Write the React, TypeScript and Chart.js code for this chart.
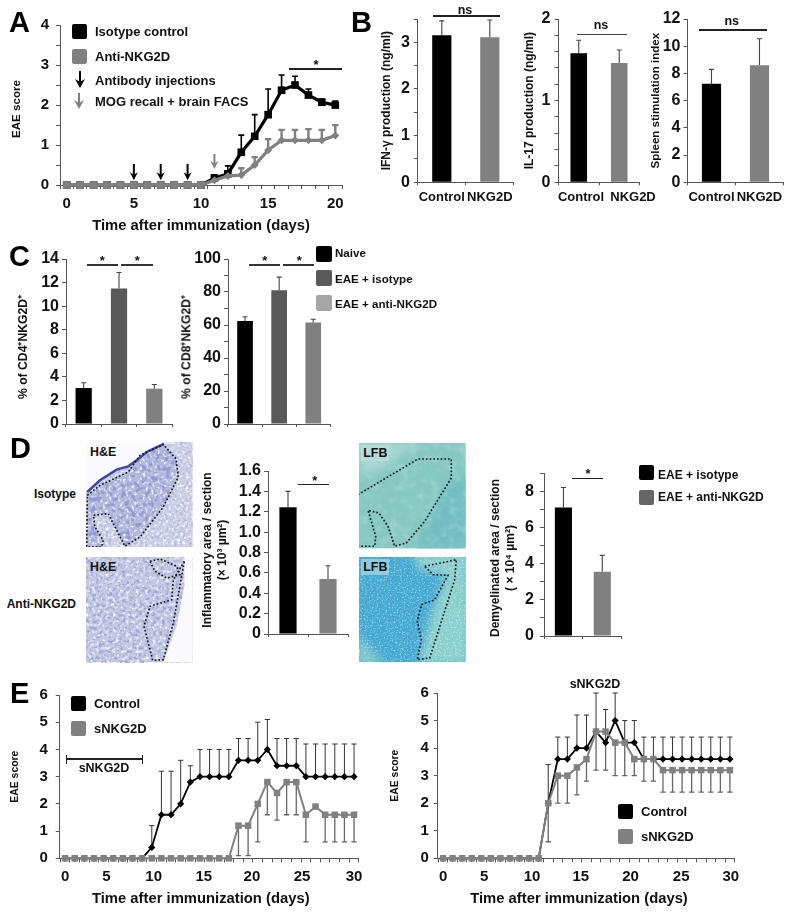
import React, { useEffect, useRef } from 'react';
import { Chart, registerables } from 'chart.js';
Chart.register(...registerables);

const FONT = '"Liberation Sans", Arial, sans-serif';
const AXIS = '#555555';
const GREY = '#808080';

// ---------- data ----------
const aDayIndex = [0, 1, 2, 3, 4, 5, 6, 7, 8, 9, 10, 11, 12, 13, 14, 15, 16, 17, 18, 19, 20];
const aIsotype = [0, 0, 0, 0, 0, 0, 0, 0, 0, 0, 0, 0.18, 0.28, 0.82, 1.22, 1.76, 2.37, 2.5, 2.25, 2.07, 2];
const aIsotypeTop = [null, null, null, null, null, null, null, null, null, null, null, 0.25, 0.48, 1.25, 1.76, 2.4, 2.75, 2.72, 2.4, 2.15, 2.1];
const aAnti = [0, 0, 0, 0, 0, 0, 0, 0, 0, 0, 0, 0.12, 0.23, 0.25, 0.5, 0.87, 1.12, 1.12, 1.12, 1.12, 1.24];
const aAntiTop = [null, null, null, null, null, null, null, null, null, null, null, 0.2, 0.33, 0.42, 0.7, 1.15, 1.38, 1.38, 1.4, 1.38, 1.5];
const aTickPos = [0, 5, 10, 15, 20];
const aTickLabels = ['0', '5', '10', '15', '20'];
const aBlackArrowDays = [5, 7, 9];
const aGreyArrowDays = [11];

const bCategories = ['Control', 'NKG2D'];
const ifnValues = [3.15, 3.11];
const ifnTop = [3.46, 3.48];
const il17Values = [1.58, 1.46];
const il17Top = [1.74, 1.62];
const spleenValues = [7.25, 8.6];
const spleenTop = [8.3, 10.55];

const cCategories = ['Naive', 'EAE + isotype', 'EAE + anti-NKG2D'];
const cd4Values = [3.05, 11.5, 3];
const cd4Top = [3.5, 12.85, 3.35];
const cd8Values = [62.5, 81, 61.5];
const cd8Top = [65, 89, 63.5];

const dCategories = ['EAE + isotype', 'EAE + anti-NKG2D'];
const inflamValues = [1.245, 0.54];
const inflamTop = [1.4, 0.67];
const demyelValues = [7.1, 3.55];
const demyelTop = [8.2, 4.45];

const e1Index = Array.from({ length: 31 }, (_, i) => i);
const e1Control = [0, 0, 0, 0, 0, 0, 0, 0, 0, 0.4, 1.6, 1.6, 2, 2.8, 3, 3, 3, 3, 3.6, 3.6, 3.6, 4, 3.4, 3.4, 3.4, 3, 3, 3, 3, 3, 3];
const e1ControlTop = [null, null, null, null, null, null, null, null, null, 1.2, 3.2, 3.2, 3.6, 3.4, 4, 4, 4, 4, 4.4, 4.4, 5, 5.1, 4.4, 4.4, 4.4, 4.2, 4.2, 4.2, 4.2, 4.2, 4.2];
const e1Snkg = [0, 0, 0, 0, 0, 0, 0, 0, 0, 0, 0, 0, 0, 0, 0, 0, 0, 0, 1.2, 1.2, 2, 2.8, 2.4, 2.8, 2.8, 1.6, 1.9, 1.6, 1.6, 1.6, 1.6];
const e1SnkgLow = [null, null, null, null, null, null, null, null, null, null, null, null, null, null, null, null, null, null, 0.1, 0.1, 0.6, 1.6, 1.4, 1.6, 1.6, 0.6, null, 0.6, 0.6, 0.6, 0.6];
const e1TickPos = [0, 4.3, 9.2, 14.4, 19.4, 24.6, 30];

const e2Control = [0, 0, 0, 0, 0, 0, 0, 0, 0, 0, 0, 2, 3.6, 3.6, 4, 4, 4.6, 4.2, 5, 4.2, 4.2, 3.6, 3.6, 3.6, 3.6, 3.6, 3.6, 3.6, 3.6, 3.6, 3.6];
const e2ControlTop = [null, null, null, null, null, null, null, null, null, null, null, 3.4, 4.4, 4.4, 5.2, 5.2, 6, 5.4, 6, 5, 5, 4.4, 4.4, 4.4, 4.4, 4.4, 4.4, 4.4, 4.4, 4.4, 4.4];
const e2Snkg = [0, 0, 0, 0, 0, 0, 0, 0, 0, 0, 0, 2, 3, 3, 3.3, 3.6, 4.6, 4.6, 4.2, 4.2, 3.6, 3.6, 3.6, 3.2, 3.2, 3.2, 3.2, 3.2, 3.2, 3.2, 3.2];
const e2SnkgLow = [null, null, null, null, null, null, null, null, null, null, null, 0.6, 2, 2, 2.3, 2.8, 3.2, 3.2, 3, 3, 3, 2.8, 2.8, 2.4, 2.4, 2.4, 2.4, 2.4, 2.4, 2.4, 2.4];
const e2TickPos = [0, 4.3, 9.3, 14.4, 19.6, 24.9, 30.1];
const eTickLabels = ['0', '5', '10', '15', '20', '25', '30'];

// ---------- plugins ----------
const errorBars = {
  id: 'errorBars',
  beforeDatasetsDraw(chart: any) {
    const { ctx } = chart;
    const y = chart.scales.y;
    chart.data.datasets.forEach((ds: any, i: number) => {
      const ends = ds.errTop || ds.errLow;
      if (!ends) return;
      const meta = chart.getDatasetMeta(i);
      ctx.save();
      ctx.strokeStyle = ds.errColor;
      ctx.lineWidth = ds.errWidth;
      ends.forEach((end: number | null, k: number) => {
        if (end === null || end === undefined) return;
        const px = meta.data[k].x;
        const y0 = y.getPixelForValue(ds.data[k].y ?? ds.data[k]);
        const y1 = y.getPixelForValue(end);
        ctx.beginPath();
        ctx.moveTo(px, y0);
        ctx.lineTo(px, y1);
        ctx.moveTo(px - ds.errCap, y1);
        ctx.lineTo(px + ds.errCap, y1);
        ctx.stroke();
      });
      ctx.restore();
    });
  },
};

const arrowPlugin = (items: { day: number; top: number; bottom: number; color: string }[]) => ({
  id: 'arrows',
  afterDatasetsDraw(chart: any) {
    const { ctx } = chart;
    items.forEach((a) => {
      const x = chart.scales.x.getPixelForValue(a.day);
      const y0 = chart.scales.y.getPixelForValue(a.top);
      const y1 = chart.scales.y.getPixelForValue(a.bottom);
      ctx.save();
      ctx.strokeStyle = a.color;
      ctx.fillStyle = a.color;
      ctx.lineWidth = 2;
      ctx.beginPath();
      ctx.moveTo(x, y0);
      ctx.lineTo(x, y1 - 4);
      ctx.stroke();
      ctx.beginPath();
      ctx.moveTo(x - 4, y1 - 8);
      ctx.lineTo(x, y1 - 5.5);
      ctx.lineTo(x + 4, y1 - 8);
      ctx.lineTo(x, y1);
      ctx.closePath();
      ctx.fill();
      ctx.restore();
    });
  },
});

// ---------- chart panel ----------
type Title = { lines: string[]; cx: number; cy: number; size: number };
type Frame = { l: number; t: number; r: number; b: number; bottom: number };

function fixedBox(size: number, prop: 'width' | 'height') {
  return (s: any) => {
    s[prop] = size;
    s.paddingLeft = s.paddingRight = s.paddingTop = s.paddingBottom = 0;
  };
}

function Txt(p: { x: number; y: number; text: string; size?: number; anchor?: string; rotate?: boolean; color?: string; weight?: number }) {
  const tx = p.anchor === 'start' ? '0' : p.anchor === 'end' ? '-100%' : '-50%';
  return (
    <div
      style={{
        position: 'absolute',
        left: p.x,
        top: p.y,
        transform: `translate(${tx},-50%)${p.rotate ? ' rotate(-90deg)' : ''}`,
        font: `${p.weight ?? 700} ${p.size ?? 13}px ${FONT}`,
        lineHeight: 1.1,
        color: p.color ?? '#111',
        whiteSpace: 'nowrap',
      }}
    >
      {p.text}
    </div>
  );
}

function Panel(p: {
  frame: Frame;
  yTitle: Title;
  xTitle?: { text: string; cx: number; cy: number; size: number };
  yMax: number;
  yStep: number;
  yLabel: (v: number) => string;
  ySize: number;
  yPad?: number;
  xCfg: any;
  datasets: any[];
  type: 'bar' | 'line';
  labels?: string[];
  plugins?: any[];
}) {
  const ref = useRef<HTMLCanvasElement>(null);
  const { frame: f, yTitle, xTitle } = p;
  const lh = yTitle.size * 1.25;
  const yNative = Math.abs(yTitle.cy - (f.t + f.b) / 2) <= 2;
  const left = yNative ? yTitle.cx - lh / 2 : f.l - 55;
  const top = f.t - 14;
  const rightPad = 26;
  const xNative = xTitle ? Math.abs(xTitle.cx - (f.l + f.r) / 2) <= 2 : false;
  const bottom = xTitle && xNative ? xTitle.cy + (xTitle.size * 1.2) / 2 : f.bottom;
  const w = Math.round(f.r + rightPad - left);
  const h = Math.round(bottom - top);

  useEffect(() => {
    const chart = new Chart(ref.current as HTMLCanvasElement, {
      type: p.type,
      data: { labels: p.labels, datasets: p.datasets },
      plugins: [errorBars, ...(p.plugins ?? [])],
      options: {
        animation: false,
        responsive: false,
        maintainAspectRatio: false,
        devicePixelRatio: 1,
        layout: { padding: { top: f.t - top, right: w - (f.r - left), left: 0, bottom: 0 } },
        plugins: { legend: { display: false }, tooltip: { enabled: false }, title: { display: false } },
        scales: {
          x: {
            ...p.xCfg,
            position: 'bottom',
            afterFit: fixedBox(bottom - f.b, 'height'),
            title: xTitle && xNative
              ? { display: true, text: xTitle.text, color: '#111', padding: 0, font: { family: FONT, weight: 'bold', size: xTitle.size, lineHeight: 1.2 } }
              : { display: false },
          },
          y: {
            type: 'linear',
            min: 0,
            max: p.yMax,
            position: 'left',
            afterFit: fixedBox(f.l - left, 'width'),
            border: { display: true, color: AXIS, width: 1 },
            grid: { display: true, drawOnChartArea: false, drawTicks: true, tickLength: 4, color: AXIS, tickColor: AXIS },
            ticks: {
              stepSize: p.yStep,
              autoSkip: false,
              padding: p.yPad ?? 3,
              color: '#111',
              font: { family: FONT, weight: 'bold', size: p.ySize },
              callback: (v: any) => p.yLabel(Number(v)),
            },
            title: yNative
              ? {
                  display: true,
                  text: yTitle.lines.length > 1 ? yTitle.lines : yTitle.lines[0],
                  color: '#111',
                  padding: 0,
                  font: { family: FONT, weight: 'bold', size: yTitle.size, lineHeight: 1.25 },
                }
              : { display: false },
          },
        },
      } as any,
    });
    return () => chart.destroy();
  }, []);

  return (
    <>
      <canvas ref={ref} width={w} height={h} style={{ position: 'absolute', left, top, width: w, height: h }} />
      {!yNative &&
        yTitle.lines.map((t, i) => (
          <Txt key={t} x={yTitle.cx + i * lh} y={yTitle.cy} text={t} size={yTitle.size} rotate />
        ))}
      {xTitle && !xNative && <Txt x={xTitle.cx} y={xTitle.cy} text={xTitle.text} size={xTitle.size} />}
    </>
  );
}

function linearX(min: number, max: number, n: number, pos: number[], labels: string[], size: number, pad: number) {
  const map = new Map(pos.map((v, i) => [v, labels[i]]));
  const marks: number[] = [];
  for (let i = 0; i <= n; i++) marks.push(i - 0.5);
  const all = [...new Set([...marks, ...pos])].sort((a, b) => a - b);
  return {
    type: 'linear',
    min,
    max,
    border: { display: true, color: AXIS, width: 1 },
    grid: {
      display: true,
      drawOnChartArea: false,
      drawTicks: true,
      tickLength: 4,
      color: AXIS,
      tickColor: (c: any) => (c.tick && c.tick.label ? 'rgba(0,0,0,0)' : AXIS),
    },
    afterBuildTicks: (s: any) => {
      s.ticks = all.map((value) => ({ value }));
    },
    ticks: {
      autoSkip: false,
      maxRotation: 0,
      minRotation: 0,
      padding: pad,
      color: '#111',
      font: { family: FONT, weight: 'bold', size },
      callback: (v: any) => map.get(Number(v)) ?? '',
    },
  };
}

function catX(showLabels: boolean) {
  return {
    type: 'category',
    offset: true,
    border: { display: true, color: AXIS, width: 1 },
    grid: { display: true, offset: true, drawOnChartArea: false, drawTicks: true, tickLength: 3, color: AXIS, tickColor: AXIS },
    ticks: {
      autoSkip: false,
      maxRotation: 0,
      minRotation: 0,
      padding: 4,
      color: '#111',
      font: { family: FONT, weight: 'bold', size: 13 },
      callback: function (this: any, v: any) {
        return showLabels ? this.getLabelForValue(v) : '';
      },
    },
  };
}

function barDs(values: number[], top: number[], colors: string[], pct: number) {
  return [
    {
      data: values,
      backgroundColor: colors,
      borderWidth: 0,
      barPercentage: 1,
      categoryPercentage: pct,
      errTop: top,
      errColor: '#444',
      errWidth: 1.1,
      errCap: 2.5,
    },
  ];
}

function lineDs(idx: number[], values: number[], o: any) {
  return {
    data: idx.map((x, i) => ({ x, y: values[i] })),
    clip: false,
    tension: 0,
    pointBorderWidth: 0,
    ...o,
  };
}

// ---------- decoration helpers ----------
function Rule(p: { x1: number; x2: number; y: number; color?: string; h?: number }) {
  return <div style={{ position: 'absolute', left: p.x1, top: p.y - (p.h ?? 1.4) / 2, width: p.x2 - p.x1, height: p.h ?? 1.4, background: p.color ?? '#222' }} />;
}

function Swatch(p: { x: number; y: number; size?: number; color: string }) {
  const s = p.size ?? 15;
  return <div style={{ position: 'absolute', left: p.x, top: p.y, width: s, height: s, borderRadius: 2, background: p.color }} />;
}

function LegendArrow(p: { x: number; y1: number; y2: number; color: string }) {
  const h = p.y2 - p.y1;
  return (
    <svg style={{ position: 'absolute', left: p.x - 6, top: p.y1 }} width={12} height={h}>
      <line x1={6} y1={0} x2={6} y2={h - 4} stroke={p.color} strokeWidth={2} />
      <path d={`M1 ${h - 9} L6 ${h - 6} L11 ${h - 9} L6 ${h} Z`} fill={p.color} />
    </svg>
  );
}

type Pt = [number, number];
function Photo(p: {
  id: string; x: number; y: number; w: number; h: number; ox: number; oy: number; base: string;
  dark: string; darkK: number; lightK: number; freq: number;
  hot?: { pts: Pt[]; color: string; k: number; freq: number; tint: string };
  patches: { pts: Pt[]; fill: string }[];
  covers?: Pt[][];
  soft?: number;
  outlines: Pt[][];
  stroke?: { pts: Pt[]; color: string; width: number };
  label: string; labelBg?: string; seed: number;
}) {
  const conv = (pts: Pt[]) => pts.map(([a, b]) => `${((a - p.ox) / 3).toFixed(1)},${((b - p.oy) / 3).toFixed(1)}`).join(' ');
  const hex = (c: string) => [1, 3, 5].map((i) => parseInt(c.slice(i, i + 2), 16) / 255);
  const [r, g, b] = hex(p.dark);
  const hc = p.hot ? hex(p.hot.color) : [0, 0, 0];
  return (
    <div style={{ position: 'absolute', left: p.x, top: p.y, width: p.w, height: p.h }}>
      <svg width={p.w} height={p.h} style={{ position: 'absolute', left: 0, top: 0 }}>
        <defs>
          <filter id={p.id + 'd'} x="0" y="0" width="100%" height="100%">
            <feTurbulence type="fractalNoise" baseFrequency={p.freq} numOctaves={2} seed={p.seed} />
            <feColorMatrix type="matrix" values={`0 0 0 0 ${r} 0 0 0 0 ${g} 0 0 0 0 ${b} ${p.darkK} 0 0 0 ${-p.darkK * 0.5}`} />
          </filter>
          <filter id={p.id + 'l'} x="0" y="0" width="100%" height="100%">
            <feTurbulence type="fractalNoise" baseFrequency={p.freq} numOctaves={2} seed={p.seed + 7} />
            <feColorMatrix type="matrix" values={`0 0 0 0 1 0 0 0 0 1 0 0 0 0 1 ${p.lightK} 0 0 0 ${-p.lightK * 0.52}`} />
          </filter>
          <filter id={p.id + 's'} x="-20%" y="-20%" width="140%" height="140%">
            <feGaussianBlur stdDeviation={p.soft ?? 0} />
          </filter>
          {p.hot && (
            <>
              <filter id={p.id + 'h'} x="0" y="0" width="100%" height="100%">
                <feTurbulence type="fractalNoise" baseFrequency={p.hot.freq} numOctaves={2} seed={p.seed + 3} />
                <feColorMatrix type="matrix" values={`0 0 0 0 ${hc[0]} 0 0 0 0 ${hc[1]} 0 0 0 0 ${hc[2]} ${p.hot.k} 0 0 0 ${-p.hot.k * 0.5}`} />
              </filter>
              <clipPath id={p.id + 'c'}>
                <polygon points={conv(p.hot.pts)} />
              </clipPath>
            </>
          )}
        </defs>
        <rect width={p.w} height={p.h} fill={p.base} />
        {p.hot && <rect width={p.w} height={p.h} fill={p.hot.tint} clipPath={`url(#${p.id}c)`} />}
        <g filter={p.soft ? `url(#${p.id}s)` : undefined}>
          {p.patches.map((c, i) => (
            <polygon key={i} points={conv(c.pts)} fill={c.fill} />
          ))}
        </g>
        <rect width={p.w} height={p.h} filter={`url(#${p.id}d)`} />
        <rect width={p.w} height={p.h} filter={`url(#${p.id}l)`} />
        {p.hot && (
          <g clipPath={`url(#${p.id}c)`}>
            <rect width={p.w} height={p.h} filter={`url(#${p.id}h)`} />
          </g>
        )}
        {(p.covers ?? []).map((c, i) => (
          <polygon key={i} points={conv(c)} fill="#fbfbfd" />
        ))}
        {p.stroke && <polyline points={conv(p.stroke.pts)} fill="none" stroke={p.stroke.color} strokeWidth={p.stroke.width} />}
        {p.outlines.map((o, i) => (
          <polygon key={i} points={conv(o)} fill="none" stroke="#111" strokeWidth={1.6} strokeDasharray="1.7 2" />
        ))}
      </svg>
      <div style={{ position: 'absolute', left: 2, top: 2, padding: '1px 2px', background: p.labelBg ?? 'transparent', font: `700 12.4px ${FONT}`, color: '#111' }}>{p.label}</div>
    </div>
  );
}

// ---------- page ----------
const intLabel = (v: number) => (Math.abs(v - Math.round(v)) < 1e-6 ? String(Math.round(v)) : '');
const evenLabel = (v: number) => (v % 2 === 0 ? String(v) : '');
const tenLabel = (v: number) => (v % 20 === 0 ? String(v) : '');

const heTopOutline: Pt[] = [[262, 195], [300, 165], [385, 125], [420, 75], [490, 42], [528, 85], [535, 140], [490, 230], [420, 320], [375, 348], [345, 290], [325, 250], [280, 255], [285, 290], [310, 330], [305, 350], [260, 350]];

export default function App() {
  useEffect(() => {
    document.body.style.margin = '0';
    document.body.style.background = '#fff';
  }, []);
  const black = '#000000';
  const bs = ['#000000', GREY];
  const cs = ['#000000', '#595959', GREY];
  const timeTitle = 'Time after immunization (days)';

  return (
    <div style={{ position: 'absolute', left: 0, top: 0, width: 794, height: 914, overflow: 'hidden', background: '#fff', filter: 'blur(0.35px)' }}>
      {/* A */}
      <Panel
        type="line"
        frame={{ l: 60, t: 25, r: 342, b: 185, bottom: 235 }}
        yTitle={{ lines: ['EAE score'], cx: 15.7, cy: 109, size: 11.6 }}
        xTitle={{ text: timeTitle, cx: 200.8, cy: 226, size: 14.8 }}
        yMax={4}
        yStep={0.5}
        yLabel={intLabel}
        ySize={15}
        yPad={7}
        xCfg={linearX(-0.5, 20.5, 21, aTickPos, aTickLabels, 15, 6)}
        datasets={[
          lineDs(aDayIndex, aIsotype, {
            borderColor: black, backgroundColor: black, pointBackgroundColor: black, borderWidth: 3.2, pointStyle: 'rect', pointRadius: 5.4,
            errTop: aIsotypeTop, errColor: black, errWidth: 1.6, errCap: 3,
          }),
          lineDs(aDayIndex, aAnti, {
            order: -1, borderColor: GREY, backgroundColor: GREY, pointBackgroundColor: GREY, borderWidth: 3.2,
            pointStyle: aAnti.map((v) => (v === 0 ? 'rect' : 'rectRot')), pointRadius: aAnti.map((v) => (v === 0 ? 5.4 : 4)),
            errTop: aAntiTop, errColor: GREY, errWidth: 2.4, errCap: 3.2,
          }),
        ]}
        plugins={[
          arrowPlugin([
            ...aBlackArrowDays.map((day) => ({ day, top: 0.53, bottom: 0.12, color: '#000' })),
            ...aGreyArrowDays.map((day) => ({ day, top: 0.78, bottom: 0.4, color: GREY })),
          ]),
        ]}
      />
      <Swatch x={72} y={24} color="#000" />
      <Swatch x={72} y={49} color={GREY} />
      <Txt x={95} y={32} text="Isotype control" anchor="start" />
      <Txt x={95} y={57} text="Anti-NKG2D" anchor="start" />
      <Txt x={95} y={81} text="Antibody injections" anchor="start" />
      <Txt x={95} y={102} text="MOG recall + brain FACS" anchor="start" />
      <LegendArrow x={80} y1={71} y2={88} color="#000" />
      <LegendArrow x={79} y1={93} y2={109} color={GREY} />
      <Rule x1={289} x2={342} y={69} />
      <Txt x={316} y={65} text="*" size={13} />

      {/* B */}
      <Panel
        type="bar"
        labels={bCategories}
        frame={{ l: 418, t: 19.3, r: 514, b: 182.3, bottom: 212 }}
        yTitle={{ lines: ['IFN-γ production (ng/ml)'], cx: 386.7, cy: 101.7, size: 12 }}
        yMax={3.5}
        yStep={0.5}
        yLabel={intLabel}
        ySize={16}
        yPad={4}
        xCfg={catX(true)}
        datasets={barDs(ifnValues, ifnTop, bs, 0.4)}
      />
      <Rule x1={432.7} x2={500} y={16} />
      <Txt x={465} y={11} text="ns" size={12.5} />
      <Panel
        type="bar"
        labels={bCategories}
        frame={{ l: 558.3, t: 19.3, r: 639.3, b: 182.3, bottom: 212 }}
        yTitle={{ lines: ['IL-17 production (ng/ml)'], cx: 529.3, cy: 101.7, size: 12 }}
        yMax={2}
        yStep={0.2}
        yLabel={intLabel}
        ySize={16}
        yPad={4}
        xCfg={catX(false)}
        datasets={barDs(il17Values, il17Top, bs, 0.41)}
      />
      <Txt x={581} y={196.5} text={bCategories[0]} size={13} />
      <Txt x={633} y={196.5} text={bCategories[1]} size={13} />
      <Rule x1={576.7} x2={627.3} y={34.3} color="#444" />
      <Txt x={601} y={26} text="ns" size={12.5} />
      <Panel
        type="bar"
        labels={bCategories}
        frame={{ l: 687.3, t: 19.3, r: 783.3, b: 182.3, bottom: 212 }}
        yTitle={{ lines: ['Spleen stimulation index'], cx: 656, cy: 100.3, size: 11.5 }}
        yMax={12}
        yStep={2}
        yLabel={(v) => String(v)}
        ySize={16}
        xCfg={catX(true)}
        datasets={barDs(spleenValues, spleenTop, bs, 0.4)}
      />
      <Rule x1={699.3} x2={766.7} y={30} />
      <Txt x={731.7} y={22} text="ns" size={12.5} />

      {/* C */}
      <Panel
        type="bar"
        labels={cCategories}
        frame={{ l: 65.7, t: 259, r: 171.7, b: 424, bottom: 434 }}
        yTitle={{ lines: ['% of CD4⁺NKG2D⁺'], cx: 24.3, cy: 347, size: 12.2 }}
        yMax={14}
        yStep={2}
        yLabel={(v) => String(v)}
        ySize={16}
        xCfg={catX(false)}
        datasets={barDs(cd4Values, cd4Top, cs, 0.46)}
      />
      <Rule x1={86.7} x2={118.3} y={265} color="#333" />
      <Rule x1={121} x2={152.7} y={265} color="#333" />
      <Txt x={102.3} y={261} text="*" size={13} />
      <Txt x={137.3} y={261} text="*" size={13} />
      <Panel
        type="bar"
        labels={cCategories}
        frame={{ l: 227.7, t: 259, r: 330, b: 424, bottom: 434 }}
        yTitle={{ lines: ['% of CD8⁺NKG2D⁺'], cx: 187.3, cy: 347, size: 12.2 }}
        yMax={100}
        yStep={10}
        yLabel={tenLabel}
        ySize={16}
        xCfg={catX(false)}
        datasets={barDs(cd8Values, cd8Top, cs, 0.46)}
      />
      <Rule x1={249} x2={280} y={265} color="#333" />
      <Rule x1={283.3} x2={314.3} y={265} color="#333" />
      <Txt x={264.7} y={261} text="*" size={13} />
      <Txt x={299.3} y={261} text="*" size={13} />
      <Swatch x={316} y={246} size={15.5} color="#000" />
      <Swatch x={316} y={270} size={15.5} color="#595959" />
      <Swatch x={316} y={295} size={15.5} color="#a6a6a6" />
      <Txt x={335} y={253} text="Naive" size={11.6} anchor="start" />
      <Txt x={335} y={279} text="EAE + isotype" size={11.6} anchor="start" />
      <Txt x={335} y={303.5} text="EAE + anti-NKG2D" size={11.6} anchor="start" />

      {/* D photographs */}
      <Photo
        id="he1" x={86} y={441.7} w={106.7} h={105} ox={258} oy={35} base="#ccd0e7" dark="#7078b6" darkK={4.5} lightK={3.5} freq={0.35} seed={3}
        hot={{ pts: heTopOutline, color: '#4a54a4', k: 6, freq: 0.2, tint: '#b4b9dc' }}
        patches={[]}
        covers={[[[258, 35], [490, 35], [440, 60], [410, 85], [385, 103], [350, 113], [300, 145], [262, 180], [258, 180]]]}
        stroke={{ pts: [[262, 185], [300, 150], [350, 118], [385, 108], [410, 90], [440, 65], [490, 42]], color: '#3d4a9e', width: 2.4 }}
        outlines={[heTopOutline]}
        label="H&E"
      />
      <Photo
        id="he2" x={86} y={557.3} w={106.7} h={105.3} ox={258} oy={382} base="#c3c7e2" dark="#5560a8" darkK={5} lightK={3} freq={0.3} seed={11}
        patches={[]}
        covers={[[[553, 382], [578, 382], [578, 698], [490, 698], [530, 590], [553, 470]]]}
        outlines={[
          [[450, 395], [480, 388], [530, 410], [540, 435], [500, 445], [465, 425]],
          [[553, 395], [520, 450], [515, 510], [450, 530], [432, 590], [458, 692], [490, 690], [520, 580]],
        ]}
        label="H&E"
      />
      <Txt x={76} y={495} text="Isotype" size={12} anchor="end" />
      <Txt x={76} y={605} text="Anti-NKG2D" size={12} anchor="end" />
      <Photo
        id="lf1" x={359.3} y={443.3} w={106.7} h={105.3} ox={28} oy={40} base="#86c8c2" dark="#6fb9bc" darkK={1} lightK={0.5} freq={0.1} seed={5}
        soft={5}
        patches={[
          { pts: [[28, 40], [200, 40], [120, 100], [28, 140]], fill: '#a9d8d2' },
          { pts: [[300, 150], [348, 150], [348, 356], [200, 356]], fill: '#6fbdc2' },
        ]}
        outlines={[[[25, 195], [50, 180], [205, 88], [305, 88], [305, 145], [225, 275], [170, 340], [135, 350], [115, 290], [88, 250], [55, 242], [78, 320], [75, 350], [25, 350]]]}
        label="LFB" labelBg="#b8dcd8"
      />
      <Photo
        id="lf2" x={359.3} y={557.3} w={106.7} h={105} ox={28} oy={382} base="#41a7d0" dark="#2f93c2" darkK={1.6} lightK={1.6} freq={0.6} seed={9}
        soft={4}
        patches={[
          { pts: [[190, 372], [358, 372], [358, 706], [205, 706], [255, 520], [290, 440], [210, 420]], fill: '#8ad0cc' },
          { pts: [[18, 610], [105, 706], [18, 706]], fill: '#7ec9cb' },
        ]}
        outlines={[[[225, 410], [320, 390], [315, 450], [240, 685], [203, 690], [215, 630], [203, 575], [215, 525], [255, 510], [295, 437], [250, 435]]]}
        label="LFB" labelBg="#8fcbdc"
      />

      {/* D charts */}
      <Panel
        type="bar"
        labels={dCategories}
        frame={{ l: 268.3, t: 470.7, r: 348.3, b: 634, bottom: 644 }}
        yTitle={{ lines: ['Inflammatory area / section', '(× 10³ µm²)'], cx: 208, cy: 550, size: 12 }}
        yMax={1.6}
        yStep={0.2}
        yLabel={(v) => (Math.abs(v) < 1e-6 ? '0' : v.toFixed(1))}
        ySize={16}
        xCfg={catX(false)}
        datasets={barDs(inflamValues, inflamTop, bs, 0.43)}
      />
      <Rule x1={298} x2={329.3} y={484.3} />
      <Txt x={314.7} y={481} text="*" size={13} />
      <Panel
        type="bar"
        labels={dCategories}
        frame={{ l: 544, t: 472.7, r: 621.7, b: 636, bottom: 646 }}
        yTitle={{ lines: ['Demyelinated area / section', '( × 10⁴ µm²)'], cx: 495.7, cy: 557.7, size: 12 }}
        yMax={9}
        yStep={1}
        yLabel={evenLabel}
        ySize={16}
        yPad={6}
        xCfg={catX(false)}
        datasets={barDs(demyelValues, demyelTop, bs, 0.44)}
      />
      <Rule x1={571.7} x2={603.3} y={478.3} />
      <Txt x={588} y={474} text="*" size={13} />
      <Swatch x={639} y={465} color="#000" />
      <Swatch x={639} y={490} color="#666" />
      <Txt x={658} y={476} text="EAE + isotype" size={12} anchor="start" />
      <Txt x={658} y={498} text="EAE + anti-NKG2D" size={12} anchor="start" />

      {/* E left */}
      <Panel
        type="line"
        frame={{ l: 60, t: 695, r: 358.3, b: 858.3, bottom: 908 }}
        yTitle={{ lines: ['EAE score'], cx: 15.7, cy: 776.7, size: 10.4 }}
        xTitle={{ text: timeTitle, cx: 200.8, cy: 897.7, size: 14.8 }}
        yMax={6}
        yStep={1}
        yLabel={(v) => String(v)}
        ySize={15}
        yPad={8}
        xCfg={linearX(-0.55, 30.42, 31, e1TickPos, eTickLabels, 15, 6)}
        datasets={[
          lineDs(e1Index, e1Control, {
            borderColor: black, backgroundColor: black, pointBackgroundColor: black, borderWidth: 1.8, pointStyle: 'rectRot', pointRadius: 3.6,
            errTop: e1ControlTop, errColor: '#333', errWidth: 1, errCap: 2.6,
          }),
          lineDs(e1Index, e1Snkg, {
            order: -1, borderColor: GREY, backgroundColor: GREY, pointBackgroundColor: GREY, borderWidth: 2, pointStyle: 'rect', pointRadius: 4.6,
            errLow: e1SnkgLow, errColor: '#666', errWidth: 1.3, errCap: 2.6,
          }),
        ]}
      />
      <Swatch x={71} y={696} color="#000" />
      <Swatch x={71} y={721} color={GREY} />
      <Txt x={94} y={703.5} text="Control" anchor="start" />
      <Txt x={94} y={728.5} text="sNKG2D" anchor="start" />
      <Rule x1={66.7} x2={142.7} y={759} />
      <div style={{ position: 'absolute', left: 66, top: 755, width: 1.4, height: 9, background: '#222' }} />
      <div style={{ position: 'absolute', left: 142, top: 755, width: 1.4, height: 9, background: '#222' }} />
      <Txt x={104} y={768.5} text="sNKG2D" size={12.5} />

      {/* E right */}
      <Panel
        type="line"
        frame={{ l: 438, t: 692.7, r: 734.7, b: 858.3, bottom: 908 }}
        yTitle={{ lines: ['EAE score'], cx: 395.7, cy: 776, size: 10.4 }}
        xTitle={{ text: timeTitle, cx: 579, cy: 897.7, size: 14.8 }}
        yMax={6}
        yStep={1}
        yLabel={(v) => String(v)}
        ySize={15}
        yPad={5}
        xCfg={linearX(-0.55, 30.48, 31, e2TickPos, eTickLabels, 15, 6)}
        datasets={[
          lineDs(e1Index, e2Control, {
            borderColor: black, backgroundColor: black, pointBackgroundColor: black, borderWidth: 1.8, pointStyle: 'rectRot', pointRadius: 3.6,
            errTop: e2ControlTop, errColor: '#333', errWidth: 1, errCap: 2.6,
          }),
          lineDs(e1Index, e2Snkg, {
            order: -1, borderColor: GREY, backgroundColor: GREY, pointBackgroundColor: GREY, borderWidth: 2, pointStyle: 'rect', pointRadius: 4.6,
            errLow: e2SnkgLow, errColor: '#666', errWidth: 1.3, errCap: 2.6,
          }),
        ]}
      />
      <Txt x={595} y={685} text="sNKG2D" size={12.5} />
      <Swatch x={618} y={804} color="#000" />
      <Swatch x={618} y={829} color={GREY} />
      <Txt x={641} y={812} text="Control" anchor="start" />
      <Txt x={641} y={837} text="sNKG2D" anchor="start" />

      {/* Panel letters */}
      <Txt x={9} y={23} text="A" size={29} anchor="start" color="#000" />
      <Txt x={351} y={23} text="B" size={29} anchor="start" color="#000" />
      <Txt x={9} y={257} text="C" size={29} anchor="start" color="#000" />
      <Txt x={10} y={449} text="D" size={29} anchor="start" color="#000" />
      <Txt x={10} y={694} text="E" size={29} anchor="start" color="#000" />
    </div>
  );
}
